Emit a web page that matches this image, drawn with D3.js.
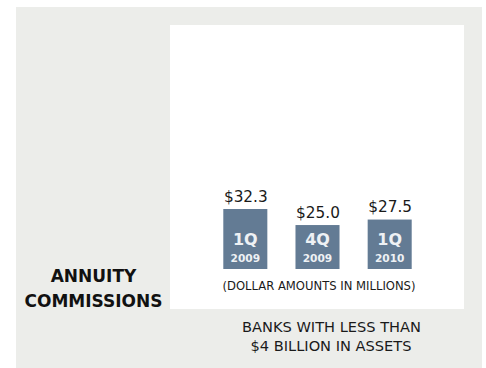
<!DOCTYPE html>
<html>
<head>
<meta charset="utf-8">
<script src="https://cdn.jsdelivr.net/npm/d3@7"></script>
<style>
  html, body { margin: 0; padding: 0; background: #ffffff; }
  svg { display: block; }
</style>
</head>
<body>
<svg id="chart" width="486" height="368"></svg>
<script>
// Annuity commissions, banks with less than $4 billion in assets ($ millions)
const quarters = ["1Q", "4Q", "1Q"];
const years = ["2009", "2009", "2010"];
const commissions = [32.3, 25.0, 27.5];
const valueLabels = ["$32.3", "$25.0", "$27.5"];

const svg = d3.select("#chart");
const W = 486, H = 368;

// Outer grey panel and the white plotting card
svg.append("rect").attr("x", 16).attr("y", 7).attr("width", 466).attr("height", H - 7)
  .attr("fill", "#ecedea");
svg.append("rect").attr("x", 170).attr("y", 25).attr("width", 294).attr("height", 284)
  .attr("fill", "#ffffff");

const idx = d3.range(commissions.length);

const x = d3.scaleBand()
  .domain(idx)
  .range([223.3, 411.7])
  .paddingInner(0.39)
  .paddingOuter(0);

// Bars rise from a common floor at 269
const y = d3.scaleLinear()
  .domain([5, 32.3])
  .range([269, 209]);
const floorY = y(5);

const font = "'DejaVu Sans', Verdana, sans-serif";
const bars = svg.append("g");

bars.selectAll("rect").data(idx).join("rect")
  .attr("x", i => x(i))
  .attr("y", i => y(commissions[i]))
  .attr("width", x.bandwidth())
  .attr("height", i => floorY - y(commissions[i]))
  .attr("fill", "#637b94");

// Value above each bar
bars.selectAll("text.value").data(idx).join("text")
  .attr("class", "value")
  .attr("x", i => x(i) + x.bandwidth() / 2 + 0.5)
  .attr("y", i => y(commissions[i]) - 7.5)
  .attr("text-anchor", "middle")
  .attr("font-family", font)
  .attr("font-size", 15.3)
  .attr("fill", "#1a1a1a")
  .text(i => valueLabels[i]);

// Quarter / year inside each bar
bars.selectAll("text.qtr").data(idx).join("text")
  .attr("class", "qtr")
  .attr("x", i => x(i) + x.bandwidth() / 2)
  .attr("y", floorY - 24)
  .attr("text-anchor", "middle")
  .attr("font-family", font)
  .attr("font-weight", "bold")
  .attr("font-size", 16)
  .attr("fill", "#eef1f4")
  .text(i => quarters[i]);

bars.selectAll("text.year").data(idx).join("text")
  .attr("class", "year")
  .attr("x", i => x(i) + x.bandwidth() / 2)
  .attr("y", floorY - 7)
  .attr("text-anchor", "middle")
  .attr("font-family", font)
  .attr("font-weight", "bold")
  .attr("font-size", 10.6)
  .attr("fill", "#eef1f4")
  .text(i => years[i]);

// Units note under the bars
svg.append("text")
  .attr("x", 319).attr("y", 290)
  .attr("text-anchor", "middle")
  .attr("font-family", font)
  .attr("font-size", 11.6)
  .attr("fill", "#1a1a1a")
  .text("(DOLLAR AMOUNTS IN MILLIONS)");

// Title on the left
const title = svg.append("text")
  .attr("text-anchor", "middle")
  .attr("font-family", font)
  .attr("font-weight", "bold")
  .attr("font-size", 17)
  .attr("fill", "#111111");
title.append("tspan").attr("x", 93.5).attr("y", 282).text("ANNUITY");
title.append("tspan").attr("x", 93.5).attr("y", 307).text("COMMISSIONS");

// Caption below the card
const cap = svg.append("text")
  .attr("text-anchor", "middle")
  .attr("font-family", font)
  .attr("font-size", 14.6)
  .attr("fill", "#1a1a1a");
cap.append("tspan").attr("x", 331.5).attr("y", 332).text("BANKS WITH LESS THAN");
cap.append("tspan").attr("x", 331).attr("y", 351).text("$4 BILLION IN ASSETS");
</script>
</body>
</html>
